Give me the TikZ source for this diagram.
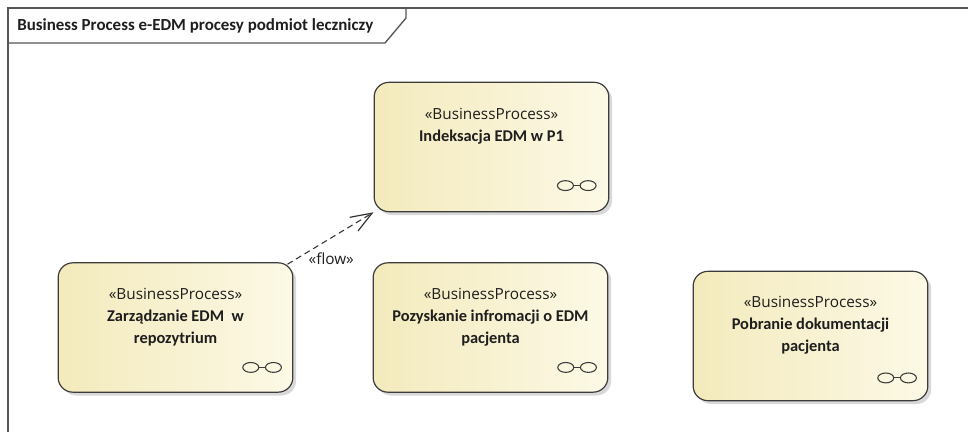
\documentclass[tikz,border=0pt]{standalone}
\usepackage{fontspec}
\setmainfont{Carlito}
\newfontfamily\stereofont{Open Sans}
\usetikzlibrary{arrows.meta,shadows,positioning}

\definecolor{frameline}{RGB}{85,85,85}
\definecolor{procline}{RGB}{60,60,60}
\definecolor{procleft}{RGB}{243,234,188}
\definecolor{procright}{RGB}{252,249,230}
\definecolor{txtcol}{RGB}{30,30,30}

\tikzset{
  proc/.style={draw=procline, line width=0.9pt, rounded corners=11pt,
    minimum width=176pt, minimum height=97pt,
    left color=procleft, right color=procright,
    drop shadow={shadow xshift=2.5pt, shadow yshift=-2.5pt, opacity=.3}},
  proctxt/.style={anchor=north, align=center, inner sep=0pt, text=txtcol,
    font=\fontsize{12.3}{16.5}\selectfont},
  flowline/.style={draw=black!80, line width=0.8pt, dash pattern=on 4.5pt off 3pt,
    -{Straight Barb[length=16pt,width=12pt,line width=0.9pt]}},
  pics/lnk/.style={code={
    \draw[line width=0.8pt, procline] (-8.5pt,0) ellipse [x radius=6pt, y radius=3.7pt];
    \draw[line width=0.8pt, procline] (8.5pt,0) ellipse [x radius=6pt, y radius=3.7pt];
    \draw[line width=0.8pt, procline] (-2.5pt,0) -- (2.5pt,0);
  }}
}

\newcommand{\stereo}{{\stereofont\fontsize{11.5}{16.5}\selectfont «BusinessProcess»}}

\begin{document}
\begin{tikzpicture}[x=0.75pt, y=-0.75pt]
\useasboundingbox (0,0) rectangle (968,432);

% frame and its tab
\draw[frameline, line width=1.2pt] (968,8) -- (8,8) -- (8,432);
\draw[frameline, line width=1pt] (406,8) -- (406,18) -- (385,43) -- (8,43);
\node[anchor=west, inner sep=0pt, font=\fontsize{12.7}{14}\selectfont\bfseries, text=txtcol] (title)
  at (17,26) {Business Process e-EDM procesy podmiot leczniczy};

% processes
\node[proc] (indeks) at (491.5,147) {};
\node[proc] (zarzad) at (175.5,327.5) {};
\node[proc] (pozysk) at (490.5,327.5) {};
\node[proc] (pobr) at (810.5,336) {};

\node[proctxt] (indekst) at ([yshift=-20pt]indeks.north) {\stereo\\ \textbf{Indeksacja EDM w P1}};
\node[proctxt] (zarzadt) at ([yshift=-19pt]zarzad.north) {\stereo\\ \textbf{Zarządzanie EDM\ \ w}\\ \textbf{repozytrium}};
\node[proctxt] (pozyskt) at ([yshift=-19.5pt]pozysk.north) {\stereo\\ \textbf{Pozyskanie infromacji o EDM}\\ \textbf{pacjenta}};
\node[proctxt] (pobrt) at ([yshift=-19pt]pobr.north) {\stereo\\ \textbf{Pobranie dokumentacji}\\ \textbf{pacjenta}};

\pic at ([shift={(-24.5pt,20pt)}]indeks.south east) {lnk};
\pic at ([shift={(-23.5pt,19pt)}]zarzad.south east) {lnk};
\pic at ([shift={(-23.5pt,19pt)}]pozysk.south east) {lnk};
\pic at ([shift={(-23.5pt,17.5pt)}]pobr.south east) {lnk};

% flow
\draw[flowline] ([shift={(-4.5pt,-1.5pt)}]zarzad.north east) -- (indeks.south west)
  node[pos=.24, anchor=north west, inner sep=0pt, text=txtcol,
    font=\stereofont\fontsize{11.5}{13}\selectfont] (flowlbl) {«flow»};
\end{tikzpicture}
\end{document}
